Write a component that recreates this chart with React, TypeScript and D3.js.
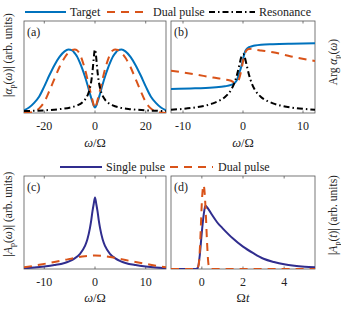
import { useEffect, useRef } from 'react';
import * as d3 from 'd3';

// panel (a): |alpha_p(omega)|
const omegaA = [-28, -26, -24, -22, -20, -18, -16, -14, -12, -10.5, -9, -8, -7, -6, -5, -4, -3, -2, -1, 0, 1, 2, 3, 4, 5, 6, 7, 8, 9, 10.5, 12, 14, 16, 18, 20, 22, 24, 26, 28];
const targetA = [0.03, 0.06, 0.11, 0.18, 0.29, 0.41, 0.52, 0.61, 0.67, 0.69, 0.68, 0.65, 0.61, 0.55, 0.48, 0.4, 0.31, 0.21, 0.12, 0.06, 0.12, 0.21, 0.31, 0.4, 0.48, 0.55, 0.61, 0.65, 0.68, 0.69, 0.67, 0.61, 0.52, 0.41, 0.29, 0.18, 0.11, 0.06, 0.03];
const dualA = [0, 0.005, 0.015, 0.05, 0.12, 0.24, 0.37, 0.5, 0.6, 0.655, 0.685, 0.69, 0.68, 0.64, 0.57, 0.48, 0.37, 0.25, 0.14, 0.05, 0.14, 0.25, 0.37, 0.48, 0.57, 0.64, 0.68, 0.69, 0.685, 0.655, 0.6, 0.5, 0.37, 0.24, 0.12, 0.05, 0.015, 0.005, 0];
const omegaResA = [-28, -20, -14, -10, -7, -5, -4, -3, -2, -1.5, -1, -0.6, -0.3, 0, 0.3, 0.6, 1, 1.5, 2, 3, 4, 5, 7, 10, 14, 20, 28];
const resA = [0.021, 0.029, 0.042, 0.058, 0.083, 0.115, 0.143, 0.188, 0.27, 0.34, 0.447, 0.564, 0.651, 0.69, 0.651, 0.564, 0.447, 0.34, 0.27, 0.188, 0.143, 0.115, 0.083, 0.058, 0.042, 0.029, 0.021];

// panel (b): Arg alpha_p(omega)
const omegaB = [-12, -8, -5, -3, -2, -1.5, -1, -0.6, -0.3, 0, 0.3, 0.6, 1, 1.5, 2, 3, 5, 8, 12];
const targetB = [0.262, 0.268, 0.278, 0.29, 0.305, 0.32, 0.36, 0.44, 0.5, 0.58, 0.66, 0.695, 0.715, 0.725, 0.733, 0.742, 0.748, 0.753, 0.757];
const dualB = [0.46, 0.42, 0.385, 0.365, 0.35, 0.335, 0.335, 0.38, 0.46, 0.56, 0.64, 0.68, 0.695, 0.698, 0.69, 0.68, 0.66, 0.615, 0.565];
const omegaResB = [-12, -10, -8, -6, -5, -4, -3, -2, -1.5, -1, -0.6, -0.3, 0, 0.3, 0.6, 1, 1.5, 2, 3, 4, 5, 6, 8, 10, 12];
const resB = [0.035, 0.045, 0.06, 0.085, 0.105, 0.133, 0.174, 0.25, 0.316, 0.415, 0.523, 0.604, 0.64, 0.604, 0.523, 0.415, 0.316, 0.25, 0.174, 0.133, 0.105, 0.085, 0.06, 0.045, 0.035];

// panel (c): |A_p(omega)|
const omegaC = [-14, -12, -10, -8, -6, -5, -4, -3, -2, -1.5, -1, -0.75, -0.5, -0.25, 0, 0.25, 0.5, 0.75, 1, 1.5, 2, 3, 4, 5, 6, 8, 10, 12, 14];
const singleC = [0.008, 0.016, 0.027, 0.042, 0.065, 0.085, 0.115, 0.16, 0.245, 0.32, 0.44, 0.52, 0.62, 0.7, 0.77, 0.7, 0.62, 0.52, 0.44, 0.32, 0.245, 0.16, 0.115, 0.085, 0.065, 0.042, 0.027, 0.016, 0.008];
const omegaDualC = [-14, -12, -10, -8, -6, -4, -2, 0, 2, 4, 6, 8, 10, 12, 14];
const dualC = [0.018, 0.035, 0.055, 0.075, 0.097, 0.12, 0.138, 0.145, 0.138, 0.12, 0.097, 0.075, 0.055, 0.035, 0.018];

// panel (d): |A_p(t)|
const timeD = [-1.5, -0.3, -0.2, -0.1, 0, 0.1, 0.17, 0.3, 0.5, 0.75, 1, 1.5, 2, 2.5, 3, 3.5, 4, 4.5, 5, 5.5];
const singleD = [0, 0, 0.01, 0.15, 0.4, 0.6, 0.68, 0.65, 0.58, 0.5, 0.44, 0.33, 0.24, 0.17, 0.11, 0.075, 0.05, 0.035, 0.025, 0.018];
const timeDualD = [-1.5, -0.25, -0.15, -0.1, -0.05, 0, 0.05, 0.08, 0.12, 0.18, 0.25, 0.3, 0.35, 0.4, 5.5];
const dualD = [0, 0, 0.05, 0.2, 0.45, 0.72, 0.87, 0.9, 0.86, 0.65, 0.3, 0.1, 0.02, 0, 0];

const ticksA = [-20, 0, 20];
const ticksB = [-10, 0, 10];
const ticksC = [-10, 0, 10];
const ticksD = [0, 2, 4];

const BLUE = '#0072BD';
const ORANGE = '#D95319';
const NAVY = '#302D8E';
const FONT = "'Liberation Serif', 'DejaVu Serif', serif";
const DASH = '8,6';
const DASHDOT = '6,3,1.5,3';

type Seg = { t: string; i?: boolean; sub?: boolean };

function richText(
  g: d3.Selection<SVGGElement, unknown, null, undefined>,
  x: number,
  y: number,
  segs: Seg[],
  size: number,
  rotate = 0
) {
  const text = g
    .append('text')
    .attr('transform', `translate(${x},${y}) rotate(${rotate})`)
    .attr('text-anchor', 'middle')
    .style('font-family', FONT)
    .attr('font-size', size)
    .attr('fill', '#222');
  let shifted = false;
  segs.forEach(s => {
    const ts = text.append('tspan').text(s.t);
    if (s.i) ts.attr('font-style', 'italic');
    if (s.sub) {
      ts.attr('font-size', size * 0.7).attr('dy', 2.5);
      shifted = true;
    } else if (shifted) {
      ts.attr('dy', -2.5);
      shifted = false;
    }
  });
  return text;
}

interface Series {
  xs: number[];
  ys: number[];
  color: string;
  dash?: string;
}

interface PanelDef {
  x0: number;
  x1: number;
  y0: number;
  y1: number;
  domain: [number, number];
  ticks: number[];
  series: Series[];
  tag: string;
}

export default function App() {
  const svgRef = useRef<SVGSVGElement>(null);

  useEffect(() => {
    if (!svgRef.current) return;
    const svg = d3.select(svgRef.current);
    svg.selectAll('*').remove();
    const root = svg.append('g');

    const panels: PanelDef[] = [
      {
        x0: 24, x1: 166, y0: 21, y1: 113, domain: [-28, 28], ticks: ticksA, tag: '(a)',
        series: [
          { xs: omegaA, ys: targetA, color: BLUE },
          { xs: omegaA, ys: dualA, color: ORANGE, dash: DASH },
          { xs: omegaResA, ys: resA, color: '#000', dash: DASHDOT }
        ]
      },
      {
        x0: 171, x1: 315, y0: 21, y1: 113, domain: [-12, 12], ticks: ticksB, tag: '(b)',
        series: [
          { xs: omegaB, ys: targetB, color: BLUE },
          { xs: omegaB, ys: dualB, color: ORANGE, dash: DASH },
          { xs: omegaResB, ys: resB, color: '#000', dash: DASHDOT }
        ]
      },
      {
        x0: 24, x1: 166, y0: 176, y1: 269, domain: [-14, 14], ticks: ticksC, tag: '(c)',
        series: [
          { xs: omegaC, ys: singleC, color: NAVY },
          { xs: omegaDualC, ys: dualC, color: ORANGE, dash: DASH }
        ]
      },
      {
        x0: 171, x1: 315, y0: 176, y1: 269, domain: [-1.5, 5.5], ticks: ticksD, tag: '(d)',
        series: [
          { xs: timeD, ys: singleD, color: NAVY },
          { xs: timeDualD, ys: dualD, color: ORANGE, dash: DASH }
        ]
      }
    ];

    panels.forEach((p, pi) => {
      const x = d3.scaleLinear().domain(p.domain).range([p.x0, p.x1]);
      const y = d3.scaleLinear().domain([0, 1]).range([p.y1, p.y0]);
      const g = root.append('g');
      const clipId = `clip${pi}`;
      g.append('clipPath')
        .attr('id', clipId)
        .append('rect')
        .attr('x', p.x0)
        .attr('y', p.y0 - 1)
        .attr('width', p.x1 - p.x0)
        .attr('height', p.y1 - p.y0 + 1);

      // frame
      g.append('rect')
        .attr('x', p.x0)
        .attr('y', p.y0)
        .attr('width', p.x1 - p.x0)
        .attr('height', p.y1 - p.y0)
        .attr('fill', 'white')
        .attr('stroke', '#555')
        .attr('stroke-width', 0.8);

      // inward ticks top and bottom
      p.ticks.forEach(t => {
        g.append('line')
          .attr('x1', x(t)).attr('x2', x(t))
          .attr('y1', p.y1).attr('y2', p.y1 - 2.5)
          .attr('stroke', '#555').attr('stroke-width', 0.8);
        g.append('line')
          .attr('x1', x(t)).attr('x2', x(t))
          .attr('y1', p.y0).attr('y2', p.y0 + 2.5)
          .attr('stroke', '#555').attr('stroke-width', 0.8);
        g.append('text')
          .attr('x', x(t))
          .attr('y', p.y1 + 17)
          .attr('text-anchor', 'middle')
          .style('font-family', FONT)
          .attr('font-size', 12)
          .attr('fill', '#222')
          .text(t < 0 ? `-${Math.abs(t)}` : `${t}`);
      });

      const plot = g.append('g').attr('clip-path', `url(#${clipId})`);
      p.series.forEach(s => {
        const pts = s.xs.map((v, i) => [v, s.ys[i]] as [number, number]);
        const line = d3
          .line<[number, number]>()
          .x(d => x(d[0]))
          .y(d => y(d[1]))
          .curve(d3.curveMonotoneX);
        plot
          .append('path')
          .datum(pts)
          .attr('d', line)
          .attr('fill', 'none')
          .attr('stroke', s.color)
          .attr('stroke-width', 2)
          .attr('stroke-dasharray', s.dash ?? null);
      });

      g.append('text')
        .attr('x', p.x0 + 3)
        .attr('y', p.y0 + 15)
        .style('font-family', FONT)
        .attr('font-size', 12)
        .attr('fill', '#222')
        .text(p.tag);
    });

    // axis labels
    const omegaLabel: Seg[] = [{ t: 'ω', i: true }, { t: '/Ω' }];
    richText(root, 95, 147, omegaLabel, 12.5);
    richText(root, 243, 147, omegaLabel, 12.5);
    richText(root, 95, 302, omegaLabel, 12.5);
    richText(root, 243, 302, [{ t: 'Ω' }, { t: 't', i: true }], 12.5);

    richText(root, 12, 55, [
      { t: '|' }, { t: 'α', i: true }, { t: 'p', sub: true }, { t: '(' }, { t: 'ω', i: true }, { t: ')| (arb. units)' }
    ], 11.5, -90);
    richText(root, 337, 62, [
      { t: 'Arg ' }, { t: 'α', i: true }, { t: 'p', sub: true }, { t: '(' }, { t: 'ω', i: true }, { t: ')' }
    ], 11.5, -90);
    richText(root, 12, 214, [
      { t: '|' }, { t: 'A', i: true }, { t: 'p', sub: true }, { t: '(' }, { t: 'ω', i: true }, { t: ')| (arb. units)' }
    ], 11.5, -90);
    richText(root, 337, 215, [
      { t: '|' }, { t: 'A', i: true }, { t: 'p', sub: true }, { t: '(' }, { t: 't', i: true }, { t: ')| (arb. units)' }
    ], 11.5, -90);

    // legends
    const legend = (lx0: number, lx1: number, ly: number, color: string, dash: string | null, label: string, tx: number) => {
      root.append('line')
        .attr('x1', lx0).attr('x2', lx1)
        .attr('y1', ly).attr('y2', ly)
        .attr('stroke', color)
        .attr('stroke-width', 2)
        .attr('stroke-dasharray', dash);
      root.append('text')
        .attr('x', tx)
        .attr('y', ly + 4)
        .style('font-family', FONT)
        .attr('font-size', 12)
        .attr('fill', '#222')
        .text(label);
    };
    legend(25, 66, 12, BLUE, null, 'Target', 70);
    legend(107, 148, 12, ORANGE, DASH, 'Dual pulse', 153);
    legend(209, 255, 12, '#000', DASHDOT, 'Resonance', 259);
    legend(60, 102, 167, NAVY, null, 'Single pulse', 106);
    legend(170, 213, 167, ORANGE, DASH, 'Dual pulse', 218);
  }, []);

  return (
    <svg
      ref={svgRef}
      width={341}
      height={313}
      style={{ position: 'absolute', left: 0, top: 0, background: 'white' }}
    />
  );
}
